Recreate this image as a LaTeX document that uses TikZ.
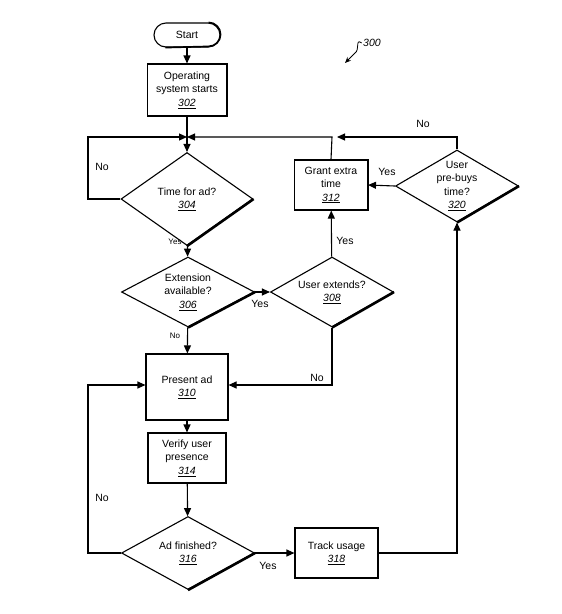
\documentclass[tikz,border=0pt]{standalone}
\usepackage{fontspec}
\setmainfont{Liberation Sans}
\usetikzlibrary{shapes.geometric,arrows.meta}
\begin{document}
\begin{tikzpicture}[x=1pt,y=-1pt,
  font=\fontsize{10.5}{13.5}\selectfont,
  line width=1.1pt,
  arr/.style={-{Triangle[length=8pt,width=7pt]}},
  term/.style={draw, rectangle, rounded corners=12pt, minimum width=66pt, minimum height=24pt, inner sep=1pt},
  box/.style={draw, rectangle, align=center, inner sep=1pt},
  dia/.style={draw, diamond, inner sep=0pt, label={[align=center]center:#1}},
  lbl/.style={inner sep=1pt},
  small/.style={font=\fontsize{8}{9}\selectfont},
  shadowbox/.style={line width=1.7pt},
  shadowdia/.style={line width=2.6pt},
]
\useasboundingbox (0,0) rectangle (562,614);

% nodes
\node[term] (start) at (187,35) {Start};
\node[box, minimum width=79pt, minimum height=52pt] (b302) at (187,90) {Operating\\system starts\\\underline{\textit{302}}};
\node[dia={Time for ad?\\\underline{\textit{304}}}, minimum width=132pt, minimum height=93pt] (d304) at (187,199) {};
\node[dia={Extension\\available?\\\underline{\textit{306}}}, minimum width=133pt, minimum height=70pt] (d306) at (188,292) {};
\node[dia={User extends?\\\underline{\textit{308}}}, minimum width=123pt, minimum height=70pt] (d308) at (332,292) {};
\node[box, minimum width=73pt, minimum height=50pt] (b312) at (331,185) {Grant extra\\time\\\underline{\textit{312}}};
\node[dia={User\\pre-buys\\time?\\\underline{\textit{320}}}, minimum width=123pt, minimum height=72pt] (d320) at (457,186) {};
\node[box, minimum width=82pt, minimum height=66pt] (b310) at (187,387) {Present ad\\\underline{\textit{310}}};
\node[box, minimum width=78pt, minimum height=50pt] (b314) at (187,458) {Verify user\\presence\\\underline{\textit{314}}};
\node[dia={Ad finished?\\\underline{\textit{316}}}, minimum width=133pt, minimum height=73pt] (d316) at (188,553) {};
\node[box, minimum width=83pt, minimum height=50pt] (b318) at (336.5,553) {Track usage\\\underline{\textit{318}}};

% shadows
\draw[shadowbox] (start.north east) ++(-12,0) arc[start angle=90,end angle=-90,radius=12pt] -- ([xshift=12pt]start.south west);
\draw[shadowbox] (b302.north east) -- (b302.south east) -- (b302.south west);
\draw[shadowbox] (b312.north east) -- (b312.south east) -- (b312.south west);
\draw[shadowbox] (b310.north east) -- (b310.south east) -- (b310.south west);
\draw[shadowbox] (b314.north east) -- (b314.south east) -- (b314.south west);
\draw[shadowbox] (b318.north east) -- (b318.south east) -- (b318.south west);
\draw[shadowdia] (d304.east) -- (d304.south);
\draw[shadowdia] (d306.east) -- (d306.south);
\draw[shadowdia] (d308.east) -- (d308.south);
\draw[shadowdia] (d316.east) -- (d316.south);
\draw[shadowdia] (d320.east) -- (d320.south);

% helper coordinates
\coordinate (jn) at (187,137);
\coordinate (cL1) at (88,137);
\coordinate (cR) at (332,137);
\coordinate (cRa) at (337,137);
\coordinate (cL2) at (88,385);
\coordinate (cB) at (457,553);

% connectors
\draw[arr] (start) -- (b302);
\draw[arr] (b302) -- (d304);
\draw[arr] (d304.west) -- (cL1 |- d304.west) -- (cL1) -- (jn);
\draw[arr] (d320.north) -- (d320.north |- jn) -- (cRa);
\draw[arr] (b312.north) -- (cR) -- (jn);
\draw[arr] (d304) -- (d306);
\draw[arr] (d306.east) -- (d308.west);
\draw[arr] (d306) -- (b310);
\draw[arr] (d308.south) |- ([yshift=2pt]b310.east);
\draw[arr] (d308) -- (b312);
\draw[arr] (d320.west) -- (b312.east);
\draw[arr] (b310) -- (b314);
\draw[arr] (b314) -- (d316);
\draw[arr] (d316.east) -- (b318.west);
\draw[arr] (d316.west) -- (cL2 |- d316.west) -- (cL2) -- ([yshift=2pt]b310.west);
\draw[arr] (b318.east) -- (cB) -- (d320.south);

% labels
\node[lbl] (l1) at (102,167) {No};
\node[lbl, small] (l2) at (175,242) {Yes};
\node[lbl] (l3) at (260,304) {Yes};
\node[lbl, small] (l4) at (175,336) {No};
\node[lbl] (l5) at (317,378) {No};
\node[lbl] (l6) at (345,241) {Yes};
\node[lbl] (l7) at (387,172) {Yes};
\node[lbl] (l8) at (423,124) {No};
\node[lbl] (l9) at (102,498) {No};
\node[lbl] (l10) at (268,566) {Yes};

% reference numeral
\node[lbl, font=\fontsize{10.5}{12}\selectfont\itshape] (n300) at (372,43) {300};
\draw[line width=0.8pt, -{Stealth[length=6pt,width=5pt]}] (n300.west) .. controls (355,38) and (360,50) .. (355,53) -- (345,63);
\end{tikzpicture}
\end{document}
